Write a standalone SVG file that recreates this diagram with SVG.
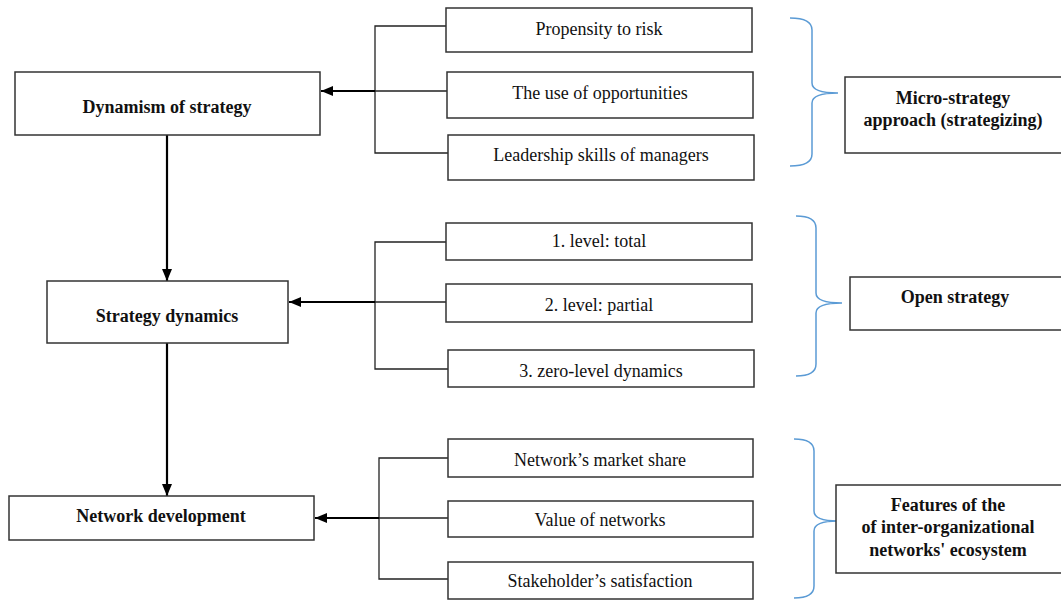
<svg xmlns="http://www.w3.org/2000/svg" width="1061" height="601" viewBox="0 0 1061 601">
<defs>
<marker id="ah" viewBox="0 0 12 10" refX="12" refY="5" markerWidth="12" markerHeight="10" markerUnits="userSpaceOnUse" orient="auto">
<path d="M0,0 L12,5 L0,10 Z" fill="#000"/>
</marker>
</defs>
<style>
.box{fill:#fff;stroke:#333;stroke-width:1.5}
.t{font-family:'Liberation Serif','DejaVu Serif',serif;font-size:18px;fill:#111;text-anchor:middle}
.b{font-family:'Liberation Serif','DejaVu Serif',serif;font-size:18px;font-weight:bold;fill:#111;text-anchor:middle}
.main{stroke:#000;stroke-width:2.2;fill:none}
.thin{stroke:#222;stroke-width:1.3;fill:none}
.brace{stroke:#5b9bd5;stroke-width:1.5;fill:none}
</style>
<rect width="1061" height="601" fill="#fff"/>
<g id="connectors">
<path class="thin" d="M446,26 H375 V153 H448 M375,91 H447"/>
<path class="thin" d="M446,242 H375 V369 H448 M375,302 H447"/>
<path class="thin" d="M448,458 H379 V579 H448 M379,518 H448"/>
<line class="main" x1="375" y1="91" x2="321" y2="91" marker-end="url(#ah)"/>
<line class="main" x1="375" y1="302" x2="289" y2="302" marker-end="url(#ah)"/>
<line class="main" x1="379" y1="518" x2="315" y2="518" marker-end="url(#ah)"/>
<line class="main" x1="167" y1="135" x2="167" y2="281" marker-end="url(#ah)"/>
<line class="main" x1="167" y1="343" x2="167" y2="496" marker-end="url(#ah)"/>
<path class="brace" d="M790,18 Q812,18 812,30 V83 Q812,93 838,93 Q812,93 812,103 V154 Q812,166 790,166"/>
<path class="brace" d="M796,216 Q816,216 816,228 V293 Q816,303 842,303 Q816,303 816,313 V364 Q816,376 796,376"/>
<path class="brace" d="M794,439 Q814,439 814,451 V511 Q814,521 838,521 Q814,521 814,531 V586 Q814,598 794,598"/>
</g>
<g id="dynamism">
<rect class="box" x="15" y="72" width="305" height="63"/>
<text class="b" x="167" y="113">Dynamism of strategy</text>
</g>
<g id="strategy-dynamics">
<rect class="box" x="47" y="281" width="241" height="62"/>
<text class="b" x="167" y="322">Strategy dynamics</text>
</g>
<g id="network-development">
<rect class="box" x="9" y="496" width="305" height="44"/>
<text class="b" x="161" y="522">Network development</text>
</g>
<g id="propensity">
<rect class="box" x="446" y="8" width="306" height="44"/>
<text class="t" x="599" y="35">Propensity to risk</text>
</g>
<g id="opportunities">
<rect class="box" x="447" y="72" width="306" height="46"/>
<text class="t" x="600" y="99">The use of opportunities</text>
</g>
<g id="leadership">
<rect class="box" x="448" y="135" width="306" height="45"/>
<text class="t" x="601" y="161">Leadership skills of managers</text>
</g>
<g id="level1">
<rect class="box" x="446" y="223" width="306" height="37"/>
<text class="t" x="599" y="247">1. level: total</text>
</g>
<g id="level2">
<rect class="box" x="446" y="284" width="306" height="38"/>
<text class="t" x="599" y="311">2. level: partial</text>
</g>
<g id="level3">
<rect class="box" x="448" y="350" width="306" height="37"/>
<text class="t" x="601" y="377">3. zero-level dynamics</text>
</g>
<g id="market-share">
<rect class="box" x="448" y="439" width="305" height="38"/>
<text class="t" x="600" y="466">Network’s market share</text>
</g>
<g id="value">
<rect class="box" x="448" y="501" width="305" height="36"/>
<text class="t" x="600" y="526">Value of networks</text>
</g>
<g id="satisfaction">
<rect class="box" x="448" y="562" width="305" height="37"/>
<text class="t" x="600" y="587">Stakeholder’s satisfaction</text>
</g>
<g id="micro-strategy">
<rect class="box" x="845" y="77" width="220" height="76"/>
<text class="b" x="953" y="104">Micro-strategy</text>
<text class="b" x="953" y="126">approach (strategizing)</text>
</g>
<g id="open-strategy">
<rect class="box" x="850" y="277" width="215" height="53"/>
<text class="b" x="955" y="303">Open strategy</text>
</g>
<g id="features">
<rect class="box" x="836" y="485" width="229" height="88"/>
<text class="b" x="948" y="511">Features of the</text>
<text class="b" x="948" y="533">of inter-organizational</text>
<text class="b" x="948" y="556">networks' ecosystem</text>
</g>
</svg>
